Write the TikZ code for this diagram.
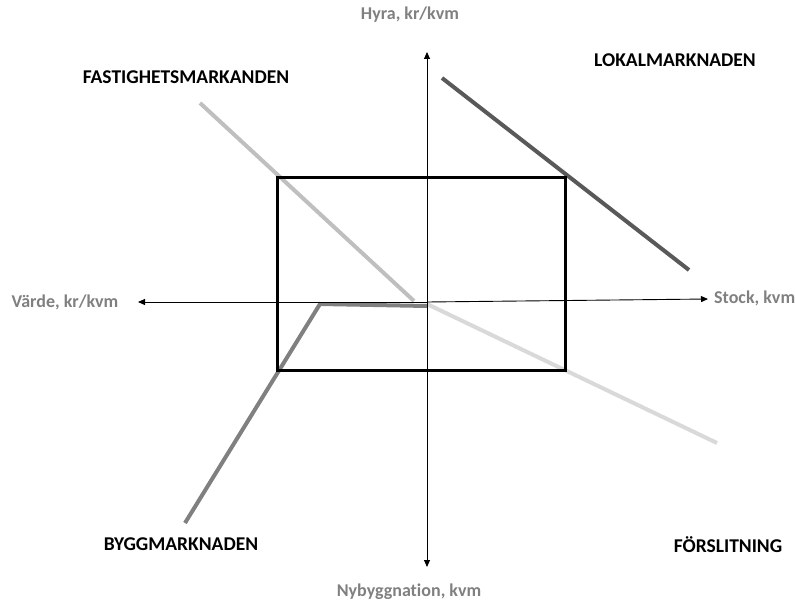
\documentclass[tikz,border=0pt]{standalone}
\usepackage{fontspec}
\setmainfont{Carlito}[Ligatures=NoCommon]
\usetikzlibrary{arrows.meta}
\definecolor{axlab}{HTML}{808080}
\definecolor{darkln}{HTML}{595959}
\definecolor{midln}{HTML}{808080}
\definecolor{lightln}{HTML}{BFBFBF}
\definecolor{paleln}{HTML}{D9D9D9}
\tikzset{
  axis/.style={-{Triangle[length=7pt,width=6pt]}, line width=0.9pt, black},
  axlabel/.style={font=\fontsize{18}{20}\selectfont\bfseries, text=axlab, inner sep=0pt},
  mlabel/.style={font=\fontsize{19.5}{22}\selectfont\bfseries, text=black, inner sep=0pt},
  curve/.style={line width=4pt},
}
\begin{document}
\begin{tikzpicture}[x=1pt,y=-1pt]
\useasboundingbox (0,0) rectangle (795,602);
% axis coordinates
\coordinate (O) at (427,302);
\coordinate (L) at (138,302);
\coordinate (R) at (708,299);
\coordinate (T) at (427,52);
\coordinate (B) at (427,567);
% curves
\coordinate (f1) at (200,103);
\coordinate (f2) at (414,301);
\coordinate (s1) at (427,304);
\coordinate (s2) at (717,443);
\coordinate (l1) at (442,78);
\coordinate (l2) at (689,270);
\coordinate (b1) at (185,523);
\coordinate (b2) at (320,304);
\coordinate (b3) at (427,306);
\draw[curve, lightln] (f1) -- (f2);
\draw[curve, paleln] (s1) -- (s2);
\draw[curve, darkln] (l1) -- (l2);
\draw[curve, midln, line join=miter] (b1) -- (b2) -- (b3);
% rectangle
\draw[line width=3pt, black] (277,177) rectangle (565,370);
% axes
\draw[axis] (O) -- (L);
\draw[axis] (O) -- (R);
\draw[axis] (O) -- (T);
\draw[axis] (O) -- (B);
% axis labels
\node[axlabel] (hyra) at (410,15) {Hyra, kr/kvm};
\node[axlabel] (varde) at (65,302) {Värde, kr/kvm};
\node[axlabel, anchor=west] (stock) at (714,298) {Stock, kvm};
\node[axlabel] (nyb) at (409,592) {Nybyggnation, kvm};
% market labels
\node[mlabel] (fast) at (186,77) {FASTIGHETSMARKANDEN};
\node[mlabel] (lokal) at (675,60) {LOKALMARKNADEN};
\node[mlabel] (bygg) at (181,544) {BYGGMARKNADEN};
\node[mlabel] (forsl) at (728,545) {FÖRSLITNING};
\end{tikzpicture}
\end{document}
